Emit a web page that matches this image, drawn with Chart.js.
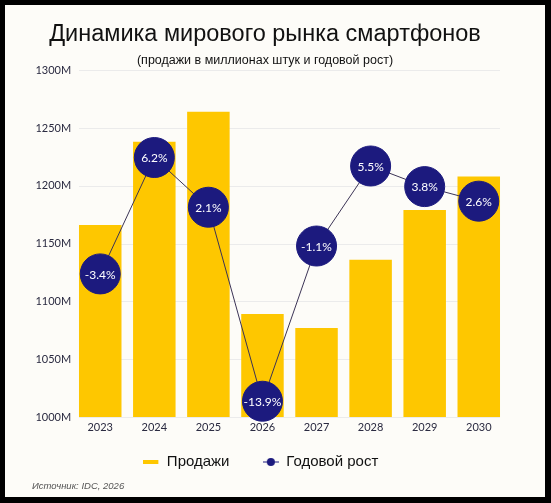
<!DOCTYPE html>
<html lang="ru">
<head>
<meta charset="utf-8">
<script src="https://cdn.jsdelivr.net/npm/chart.js@4.4.1/dist/chart.umd.min.js"></script>
<style>
    html, body {
        margin: 0;
        padding: 0;
        background: #000;
        width: 551px;
        height: 503px;
        overflow: hidden;
    }
    #panel {
        position: absolute;
        left: 5px;
        top: 5px;
        width: 540px;
        height: 492px;
        background: #fdfcf8;
    }
    #source {
        position: absolute;
        left: 27px;
        top: 475px;
        font-family: "Liberation Sans", Arial, sans-serif;
        font-style: italic;
        font-size: 9.5px;
        color: #555;
    }
</style>
</head>
<body>
<div id="panel">
    <canvas id="marketChart" width="540" height="492"></canvas>
    <div id="source">Источник: IDC, 2026</div>
</div>
<script>
const years = ["2023", "2024", "2025", "2026", "2027", "2028", "2029", "2030"];
const sales = [1166, 1238, 1264, 1089, 1077, 1136, 1179, 1208];
const growth = [-3.4, 6.2, 2.1, -13.9, -1.1, 5.5, 3.8, 2.6];

const yellow = "#fec700";
const navy = "#1c1a7e";

let marketChart = null;

document.addEventListener("DOMContentLoaded", () => {
    renderChart();
});

function legendIcon(kind) {
    const c = document.createElement("canvas");
    c.width = 16;
    c.height = 8;
    const ctx = c.getContext("2d");
    if (kind === "bar") {
        ctx.fillStyle = yellow;
        ctx.fillRect(0, 2, 15, 4);
    } else {
        ctx.strokeStyle = navy;
        ctx.lineWidth = 1;
        ctx.beginPath();
        ctx.moveTo(0, 4);
        ctx.lineTo(16, 4);
        ctx.stroke();
        ctx.fillStyle = navy;
        ctx.beginPath();
        ctx.arc(8, 4, 4, 0, Math.PI * 2);
        ctx.fill();
    }
    return c;
}

// gridlines only as wide as the bars
const barGrid = {
    id: "barGrid",
    beforeDatasetsDraw(chart) {
        const bars = chart.getDatasetMeta(0).data;
        if (!bars.length)
            return;
        const first = bars[0];
        const last = bars[bars.length - 1];
        const left = first.x - first.width / 2;
        const right = last.x + last.width / 2;
        const y = chart.scales.y;
        const ctx = chart.ctx;
        ctx.save();
        ctx.strokeStyle = "#ebebeb";
        ctx.lineWidth = 1;
        y.ticks.forEach(t => {
            const py = Math.round(y.getPixelForValue(t.value)) + 0.5;
            ctx.beginPath();
            ctx.moveTo(left, py);
            ctx.lineTo(right, py);
            ctx.stroke();
        });
        ctx.restore();
    }
};

const growthLabels = {
    id: "growthLabels",
    afterDatasetsDraw(chart) {
        const meta = chart.getDatasetMeta(1);
        const ctx = chart.ctx;
        ctx.save();
        ctx.fillStyle = "#fff";
        ctx.font = "12px Lato";
        ctx.textAlign = "center";
        ctx.textBaseline = "middle";
        meta.data.forEach((pt, i) => {
            ctx.fillText(growth[i] + "%", pt.x, pt.y + 1);
        });
        ctx.restore();
    }
};

function renderChart() {

    const ctx = document
        .getElementById("marketChart")
        .getContext("2d");

    if (marketChart)
        marketChart.destroy();

    marketChart = new Chart(ctx, {

        type: "bar",

        data: {

            labels: years,

            datasets: [{
                type: "bar",
                label: "Продажи",
                data: sales,
                backgroundColor: yellow,
                barPercentage: 0.786,
                categoryPercentage: 1,
                yAxisID: "y",
                order: 2
            }, {
                type: "line",
                label: "Годовой рост",
                data: growth,
                borderColor: "#3b3355",
                borderWidth: 1,
                pointRadius: 20,
                pointHoverRadius: 20,
                pointBackgroundColor: navy,
                pointBorderColor: navy,
                pointBorderWidth: 1,
                tension: 0,
                clip: false,
                yAxisID: "y1",
                order: 1
            }]
        },

        options: {
            responsive: false,
            animation: false,
            layout: {
                padding: { left: 19.2, right: 39.2, top: 0, bottom: 17.5 }
            },
            scales: {
                x: {
                    afterFit(scale) {
                        scale.height = 37.5;
                    },
                    grid: { display: false, drawTicks: false },
                    border: { display: false },
                    ticks: {
                        color: "#2a2a40",
                        font: { family: "Lato", size: 11 },
                        padding: 4
                    }
                },
                y: {
                    min: 1000,
                    max: 1300,
                    afterFit(scale) {
                        scale.width = 49;
                    },
                    border: { display: false },
                    grid: { display: false, drawTicks: false },
                    ticks: {
                        stepSize: 50,
                        padding: 2,
                        color: "#2a2a40",
                        font: { family: "Lato", size: 11 },
                        callback: v => v + "M"
                    }
                },
                y1: {
                    display: false,
                    min: -15.2,
                    max: 13.4
                }
            },
            plugins: {
                title: {
                    display: true,
                    text: "Динамика мирового рынка смартфонов",
                    color: "#111",
                    font: { family: "Liberation Sans", size: 23.5, weight: "normal" },
                    padding: { top: 15, bottom: 5 }
                },
                subtitle: {
                    display: true,
                    text: "(продажи в миллионах штук и годовой рост)",
                    color: "#111",
                    font: { family: "Liberation Sans", size: 12.5 },
                    padding: { top: 0, bottom: 2 }
                },
                legend: {
                    position: "bottom",
                    labels: {
                        usePointStyle: true,
                        pointStyleWidth: 16,
                        boxHeight: 8,
                        padding: 0,
                        color: "#111",
                        font: { family: "Liberation Sans", size: 15 },
                        generateLabels(chart) {
                            return chart.data.datasets.map((ds, i) => ({
                                // trailing spaces give the gap between the two items
                                text: ds.label + " ".repeat(i === 0 ? 8 : 2),
                                pointStyle: legendIcon(i === 0 ? "bar" : "line"),
                                fillStyle: "transparent",
                                strokeStyle: "transparent",
                                lineWidth: 0,
                                fontColor: "#111",
                                datasetIndex: i
                            }));
                        }
                    }
                },
                tooltip: { enabled: false }
            }
        },

        plugins: [barGrid, growthLabels]
    });
}
</script>
</body>
</html>
